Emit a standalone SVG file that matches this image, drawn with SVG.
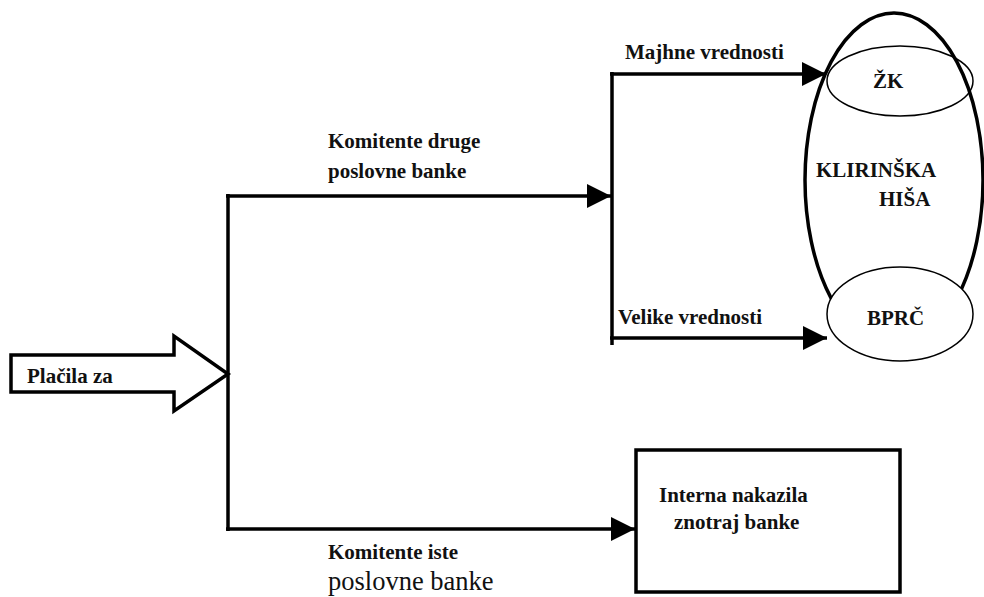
<svg xmlns="http://www.w3.org/2000/svg" width="984" height="597" viewBox="0 0 984 597">
<style>
text{font-family:"Liberation Serif","Times New Roman",serif;font-weight:bold;font-size:21px;fill:#111}
.reg{font-weight:normal;font-size:26.5px}
.ln{stroke:#000;stroke-width:3.5;fill:none}
.thin{stroke:#000;stroke-width:1.5;fill:none}
</style>
<defs>
<marker id="ah" markerUnits="userSpaceOnUse" markerWidth="24" markerHeight="24" refX="24" refY="12" orient="auto">
<path d="M0,0 L24,12 L0,24 z" fill="#000"/>
</marker>
</defs>
<rect width="984" height="597" fill="#fff"/>
<g id="connectors">
<line class="ln" x1="228" y1="194" x2="228" y2="531"/>
<line class="ln" x1="226" y1="196" x2="611" y2="196" marker-end="url(#ah)"/>
<line class="ln" x1="226" y1="529" x2="635" y2="529" marker-end="url(#ah)"/>
<line class="ln" x1="612" y1="72" x2="612" y2="345"/>
<line class="ln" x1="610" y1="74" x2="826" y2="74" marker-end="url(#ah)"/>
<line class="ln" x1="610" y1="338" x2="827" y2="338" marker-end="url(#ah)"/>
</g>
<g id="placila">
<polygon class="ln" points="11,355 174,355 174,336 228,374 174,411 174,392 11,392" style="fill:#fff"/>
<text x="27" y="383">Plačila za</text>
</g>
<g id="klirinska">
<ellipse class="ln" cx="894" cy="180" rx="89" ry="167"/>
<text x="816" y="177">KLIRINŠKA</text>
<text x="879" y="206">HIŠA</text>
</g>
<g id="zk">
<ellipse class="thin" cx="900" cy="81" rx="73" ry="35"/>
<text x="873" y="88">ŽK</text>
</g>
<g id="bprc">
<ellipse class="thin" cx="900" cy="314" rx="73" ry="47" style="fill:#fff"/>
<text x="867" y="325">BPRČ</text>
</g>
<g id="interna">
<rect class="ln" x="636" y="450" width="264" height="142"/>
<text x="659" y="502">Interna nakazila</text>
<text x="674" y="529">znotraj banke</text>
</g>
<g id="labels">
<text x="328" y="148">Komitente druge</text>
<text x="328" y="178">poslovne banke</text>
<text x="625" y="59">Majhne vrednosti</text>
<text x="618" y="324">Velike vrednosti</text>
<text x="328" y="559">Komitente iste</text>
<text class="reg" x="328" y="590">poslovne banke</text>
</g>
</svg>
